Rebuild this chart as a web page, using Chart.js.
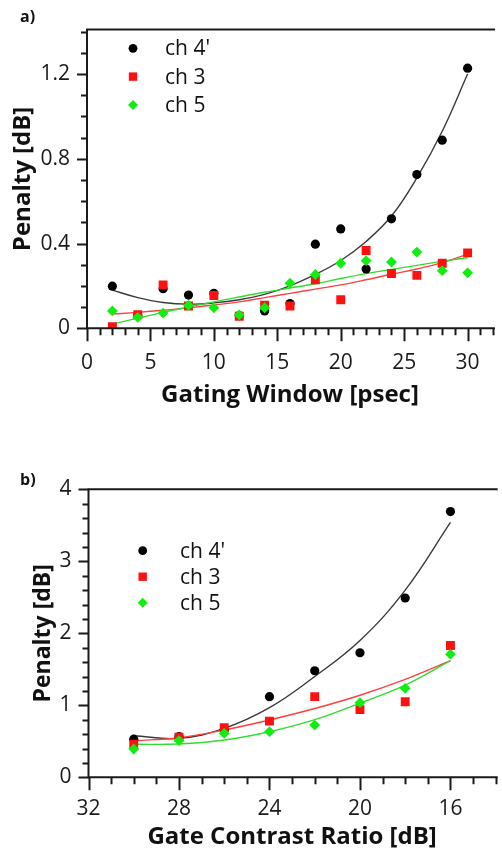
<!DOCTYPE html>
<html>
<head>
<meta charset="utf-8">
<title>Penalty vs gating window / gate contrast ratio</title>
<script src="https://cdn.jsdelivr.net/npm/chart.js@4.4.1/dist/chart.umd.min.js"></script>
<style>
  html, body { margin: 0; padding: 0; background: #fff; overflow: hidden; }
  .panel { position: absolute; left: 0; }
  .tag { position: absolute; left: 20px; z-index: 2; font: bold 16px "Open Sans", sans-serif; color: #111; }
</style>
</head>
<body>
<canvas id="chartA" class="panel" width="502" height="420" style="top:0"></canvas>
<canvas id="chartB" class="panel" width="502" height="432" style="top:420px"></canvas>
<div class="tag" style="top:5px">a)</div>
<div class="tag" style="top:468px">b)</div>

<script>
// a) penalty vs gating window
const windowPs = [2, 4, 6, 8, 10, 12, 14, 16, 18, 20, 22, 24, 26, 28, 30];
const winCh4 = [0.199, 0.06, 0.187, 0.157, 0.165, 0.06, 0.082, 0.117, 0.397, 0.469, 0.28, 0.517, 0.726, 0.888, 1.228];
const winCh3 = [0.007, 0.064, 0.205, 0.105, 0.155, 0.057, 0.109, 0.105, 0.229, 0.135, 0.367, 0.259, 0.25, 0.307, 0.356];
const winCh5 = [0.082, 0.052, 0.072, 0.108, 0.097, 0.063, 0.097, 0.213, 0.254, 0.307, 0.319, 0.313, 0.36, 0.272, 0.262];
// fitted curves
const winFit4 = [0.18, 0.145, 0.122, 0.114, 0.12, 0.135, 0.16, 0.2, 0.254, 0.32, 0.41, 0.53, 0.71, 0.93, 1.2];
const winFit3 = [0.067, 0.075, 0.085, 0.097, 0.11, 0.125, 0.145, 0.165, 0.185, 0.205, 0.229, 0.255, 0.28, 0.31, 0.35];
const winFit5 = [0.02, 0.048, 0.075, 0.1, 0.125, 0.148, 0.17, 0.19, 0.21, 0.235, 0.258, 0.278, 0.297, 0.316, 0.333];

// b) penalty vs gate contrast ratio
const contrastDb = [30, 28, 26, 24, 22, 20, 18, 16];
const crCh4 = [0.53, 0.565, 0.66, 1.12, 1.48, 1.73, 2.49, 3.69];
const crCh3 = [0.46, 0.556, 0.69, 0.78, 1.12, 0.94, 1.05, 1.83];
const crCh5 = [0.393, 0.51, 0.61, 0.633, 0.726, 1.036, 1.236, 1.71];
const crFit4 = [0.578, 0.54, 0.68, 0.967, 1.40, 1.90, 2.6, 3.54];
const crFit3 = [0.508, 0.55, 0.657, 0.796, 0.955, 1.14, 1.36, 1.62];
const crFit5 = [0.458, 0.463, 0.518, 0.633, 0.80, 1.03, 1.28, 1.62];

const channels = ["ch 4'", 'ch 3', 'ch 5'];

const BLACK = '#000000';
const RED = '#ff1010';
const GREEN = '#10ee10';

const tickFont = { family: 'Open Sans', size: 21 };
const titleFont = { family: 'Open Sans', size: 24, weight: 'bold' };

function pts(xs, ys) {
  return xs.map((x, i) => ({ x: x, y: ys[i] }));
}

// points + fit lines for one panel
function makeDatasets(xs, s4, s3, s5, f4, f3, f5) {
  const fit = (data, color, order) => ({
    type: 'line', fit: true, data: pts(xs, data), borderColor: color, borderWidth: 1.4,
    pointRadius: 0, tension: 0.4, fill: false, order: order
  });
  const dots = (label, data, color, style, r, order) => ({
    type: 'scatter', label: label, data: pts(xs, data), backgroundColor: color, borderColor: color,
    borderWidth: 0, pointStyle: style, pointRadius: r, order: order
  });
  return [
    fit(f4, '#3a3a3a', 6),
    fit(f3, '#ff4040', 5),
    fit(f5, '#30dd30', 4),
    dots(channels[0], s4, BLACK, 'circle', 4.6, 3),
    dots(channels[1], s3, RED, 'rect', 6.3, 2),
    dots(channels[2], s5, GREEN, 'rectRot', 5.4, 1)
  ];
}

// frame, major + minor ticks drawn through the scales
const frameTicks = {
  id: 'frameTicks',
  afterDraw(chart, args, opts) {
    const { ctx, chartArea: a, scales } = chart;
    const isMajor = (scale, v) => scale.ticks.some(t => Math.abs(t.value - v) < 1e-6);
    ctx.save();
    ctx.strokeStyle = '#1a1a1a';
    ctx.lineWidth = 2;
    ctx.beginPath();
    ctx.moveTo(a.right + 2, a.top);
    ctx.lineTo(a.left, a.top);
    ctx.lineTo(a.left, a.bottom);
    ctx.lineTo(a.right + 2, a.bottom);
    ctx.stroke();

    ctx.beginPath();
    const sx = scales.x;
    let start = Math.ceil(sx.min / opts.xStep - 1e-9);
    for (let i = start; i * opts.xStep <= sx.max + 1e-9; i++) {
      const v = +(i * opts.xStep).toFixed(6);
      const px = Math.round(sx.getPixelForValue(v)) + 0.5;
      const len = isMajor(sx, v) ? 13 : 7;
      ctx.moveTo(px, a.bottom);
      ctx.lineTo(px, a.bottom + len);
    }
    const sy = scales.y;
    start = Math.ceil(sy.min / opts.yStep - 1e-9);
    for (let i = start; i * opts.yStep <= sy.max + 1e-9; i++) {
      const v = +(i * opts.yStep).toFixed(6);
      const py = Math.round(sy.getPixelForValue(v)) + 0.5;
      const len = isMajor(sy, v) ? 10 : 6;
      ctx.moveTo(a.left, py);
      ctx.lineTo(a.left - len, py);
    }
    ctx.stroke();
    ctx.restore();
  }
};

// legend drawn inside the plot area
const innerLegend = {
  id: 'innerLegend',
  afterDraw(chart, args, opts) {
    const ctx = chart.ctx;
    const items = chart.data.datasets.filter(d => !d.fit);
    ctx.save();
    ctx.font = '21px "Open Sans"';
    ctx.textBaseline = 'middle';
    items.forEach((d, i) => {
      const x = opts.x, y = opts.y + i * opts.dy;
      ctx.fillStyle = d.backgroundColor;
      ctx.beginPath();
      if (d.pointStyle === 'circle') {
        ctx.arc(x, y, 4.4, 0, Math.PI * 2);
      } else if (d.pointStyle === 'rect') {
        ctx.rect(x - 4.2, y - 4.2, 8.4, 8.4);
      } else {
        ctx.moveTo(x, y - 5); ctx.lineTo(x + 5, y); ctx.lineTo(x, y + 5); ctx.lineTo(x - 5, y);
        ctx.closePath();
      }
      ctx.fill();
      ctx.fillStyle = '#111';
      ctx.fillText(d.label, opts.textX, y + 1);
    });
    ctx.restore();
  }
};

function makeOptions(cfg) {
  return {
    responsive: false,
    animation: false,
    devicePixelRatio: 1,
    layout: { padding: { top: cfg.top, right: 0, bottom: 0, left: 0 } },
    plugins: {
      legend: { display: false },
      tooltip: { enabled: false },
      frameTicks: { xStep: cfg.xMinor, yStep: cfg.yMinor },
      innerLegend: cfg.legend
    },
    scales: {
      x: {
        type: 'linear', min: cfg.xMin, max: cfg.xMax, reverse: cfg.reverse,
        grid: { display: false, drawTicks: false },
        border: { display: false },
        ticks: { stepSize: cfg.xStep, includeBounds: false, autoSkip: false, maxRotation: 0,
                 padding: cfg.xPad, font: tickFont, color: '#1a1a1a' },
        title: { display: true, text: cfg.xTitle, font: titleFont, color: '#111',
                 padding: { top: 0, bottom: cfg.xTitlePad } },
        afterFit: s => { s.height = cfg.xHeight; }
      },
      y: {
        type: 'linear', min: 0, max: cfg.yMax,
        grid: { display: false, drawTicks: false },
        border: { display: false },
        ticks: { stepSize: cfg.yStep, includeBounds: false, autoSkip: false,
                 padding: 17, font: tickFont, color: '#1a1a1a' },
        title: { display: true, text: 'Penalty [dB]', font: { family: 'Open Sans', size: cfg.yTitleSize, weight: 'bold' },
                 color: '#111', padding: { top: cfg.yTitlePad, bottom: 0 } },
        afterFit: s => { s.width = cfg.yWidth; }
      }
    }
  };
}

new Chart(document.getElementById('chartA'), {
  type: 'scatter',
  data: { datasets: makeDatasets(windowPs, winCh4, winCh3, winCh5, winFit4, winFit3, winFit5) },
  options: makeOptions({
    top: 14, xMin: 0, xMax: 32, reverse: false, xStep: 5, xMinor: 1, xPad: 22,
    xTitle: 'Gating Window [psec]', xTitlePad: 10, xHeight: 91.7,
    yMax: 1.41, yStep: 0.4, yMinor: 0.1, yWidth: 87, yTitlePad: 9, yTitleSize: 24,
    legend: { x: 133, y: 48.3, dy: 28.3, textX: 165 }
  }),
  plugins: [frameTicks, innerLegend]
});

new Chart(document.getElementById('chartB'), {
  type: 'scatter',
  data: { datasets: makeDatasets(contrastDb, crCh4, crCh3, crCh5, crFit4, crFit3, crFit5) },
  options: makeOptions({
    top: 69.3, xMin: 14, xMax: 32, reverse: true, xStep: 4, xMinor: 1, xPad: 19,
    xTitle: 'Gate Contrast Ratio [dB]', xTitlePad: 0, xHeight: 74.7,
    yMax: 4, yStep: 1, yMinor: 0.2, yWidth: 88.5, yTitlePad: 30, yTitleSize: 23,
    legend: { x: 142.7, y: 130.7, dy: 26, textX: 180 }
  }),
  plugins: [frameTicks, innerLegend]
});
</script>
</body>
</html>
